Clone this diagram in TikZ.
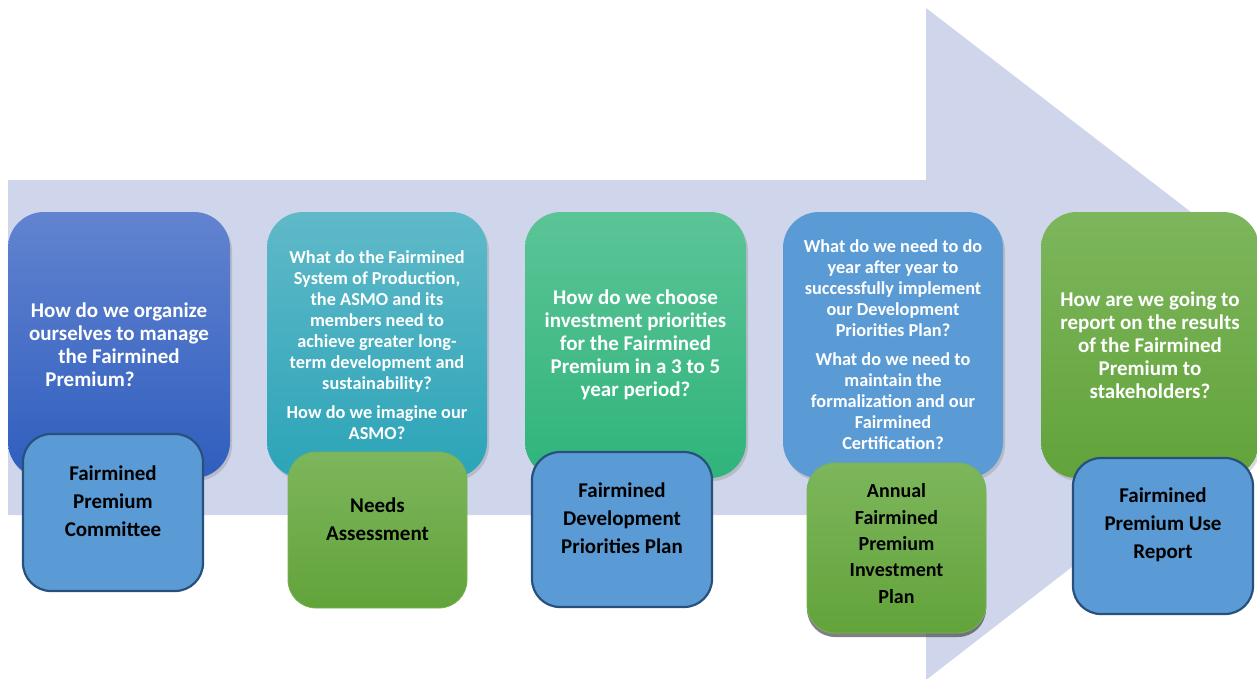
\documentclass[tikz,border=0pt]{standalone}
\usepackage{fontspec}
\setmainfont{Carlito}
\usetikzlibrary{shadows}
\definecolor{arrowc}{RGB}{207,213,234}
\definecolor{t1top}{RGB}{98,131,208}
\definecolor{t1bot}{RGB}{47,94,190}
\definecolor{t2top}{RGB}{95,185,200}
\definecolor{t2bot}{RGB}{44,164,184}
\definecolor{t3top}{RGB}{92,196,151}
\definecolor{t3bot}{RGB}{47,180,123}
\definecolor{bluec}{RGB}{91,155,213}
\definecolor{blueborder}{RGB}{40,80,125}
\definecolor{gtop}{RGB}{125,182,92}
\definecolor{gbot}{RGB}{98,163,58}
\tikzset{
  qbox/.style={rounded corners=36pt, minimum height=266pt, inner sep=0pt,
    text=white, align=center,
    drop shadow={shadow xshift=2pt, shadow yshift=-3pt, opacity=0.3}},
  qbig/.style={font=\bfseries\fontsize{21}{23}\selectfont},
  qsmall/.style={font=\bfseries\fontsize{18.3}{21}\selectfont},
  abox/.style={rounded corners=28pt, inner sep=0pt, minimum width=180pt},
  bluebox/.style={abox, fill=bluec, draw=blueborder, line width=2.2pt},
  greenbox/.style={abox, top color=gtop, bottom color=gbot, draw=gtop!80!gbot, line width=0.8pt},
  atext/.style={text=black, align=center, inner sep=0pt, font=\bfseries\fontsize{21}{28}\selectfont}
}
\begin{document}
\begin{tikzpicture}[x=1pt,y=-1pt]
\useasboundingbox (0,0) rectangle (1257,678);
\clip (0,0) rectangle (1257,678);
% big arrow
\fill[arrowc] (8,180) -- (926,180) -- (926,8) -- (1361,343) -- (926,680) -- (926,515) -- (8,515) -- cycle;
% question boxes
\node[qbox, qbig, minimum width=222pt, top color=t1top, bottom color=t1bot] (t1) at (119,345)
  {How do we organize\\ourselves to manage\\the Fairmined\\Premium?\hspace*{58pt}};
\node[qbox, qsmall, minimum width=220pt, top color=t2top, bottom color=t2bot] (t2) at (377,345)
  {What do the Fairmined\\System of Production,\\the ASMO and its\\members need to\\achieve greater long-\\term development and\\sustainability?\\[8pt]How do we imagine our\\ASMO?};
\node[qbox, qbig, minimum width=221pt, top color=t3top, bottom color=t3bot] (t3) at (635.5,345)
  {How do we choose\\investment priorities\\for the Fairmined\\Premium in a 3 to 5\\year period?};
\node[qbox, qsmall, minimum width=220pt, fill=bluec] (t4) at (893,345)
  {What do we need to do\\year after year to\\successfully implement\\our Development\\Priorities Plan?\\[8pt]What do we need to\\maintain the\\formalization and our\\Fairmined\\Certification?};
\node[qbox, qbig, minimum width=218pt, top color=gtop, bottom color=gbot] (t5) at (1150,345)
  {How are we going to\\report on the results\\of the Fairmined\\Premium to\\stakeholders?};
% answer boxes
\node[bluebox, minimum height=157pt] (b1) at (113,512.5) {};
\node[atext] (l1) at ([yshift=11pt]b1.center) {Fairmined\\Premium\\Committee};
\node[greenbox, minimum height=156pt, minimum width=179pt] (b2) at (377.5,530) {};
\node[atext] (l2) at ([yshift=11pt]b2.center) {Needs\\Assessment};
\node[bluebox, minimum height=155pt] (b3) at (622,529.5) {};
\node[atext] (l3) at ([yshift=11pt]b3.center) {Fairmined\\Development\\Priorities Plan};
\node[greenbox, minimum height=170pt, minimum width=179pt,
  drop shadow={shadow xshift=0pt, shadow yshift=-4pt, opacity=0.7, fill=black!70}] (b4) at (896.5,548) {};
\node[atext, font=\bfseries\fontsize{20}{26.3}\selectfont] (l4) at ([yshift=4.5pt]b4.center) {Annual\\Fairmined\\Premium\\Investment\\Plan};
\node[bluebox, minimum height=156pt] (b5) at (1163,536) {};
\node[atext] (l5) at ([yshift=11pt]b5.center) {Fairmined\\Premium Use\\Report};
\end{tikzpicture}
\end{document}
